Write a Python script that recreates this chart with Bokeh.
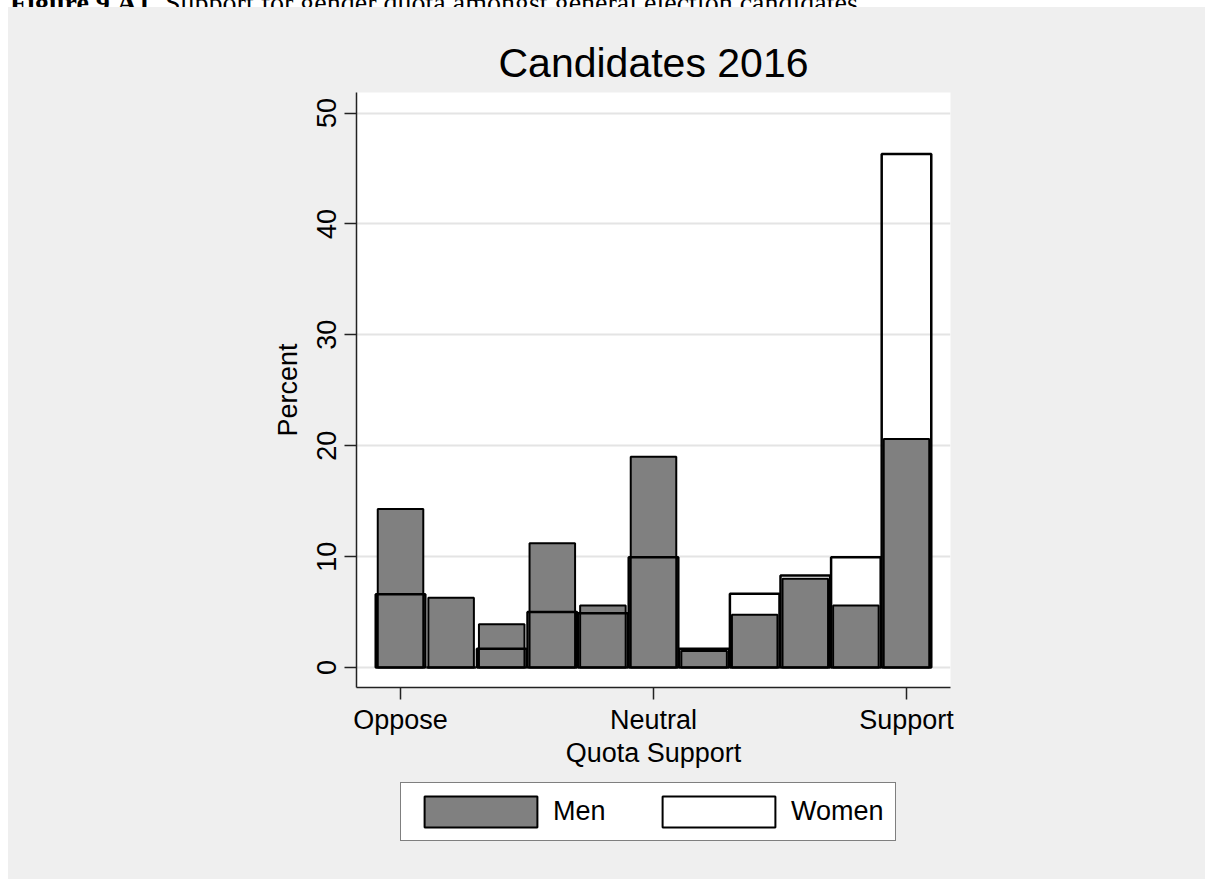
from bokeh.plotting import figure
from bokeh.models import Range1d, FixedTicker, Legend, LegendItem, Div
from bokeh.layouts import column
from bokeh.embed import file_html
from bokeh.resources import INLINE

# ---- data (percent of candidates per quota-support score, 0 = Oppose .. 10 = Support)
bins = [0, 1, 2, 3, 4, 5, 6, 7, 8, 9, 10]
men = [14.3, 6.3, 3.9, 11.2, 5.6, 19.0, 1.5, 4.75, 8.0, 5.6, 20.6]
women = [6.6, 0.0, 1.7, 5.0, 4.9, 9.95, 1.7, 6.65, 8.3, 9.95, 46.3]
x_ticks = [0, 5, 10]
x_tick_labels = ["Oppose", "Neutral", "Support"]
y_ticks = [0, 10, 20, 30, 40, 50]
series_labels = ["Men", "Women"]

FONT = "Liberation Sans"
BG = "#efefef"
MEN_FILL = "#808080"

p = figure(frame_width=594, frame_height=595,
           x_range=Range1d(-0.87, 10.87), y_range=Range1d(-1.8, 51.85),
           output_backend="svg", toolbar_location=None,
           min_border_left=348, min_border_right=255,
           min_border_top=85, min_border_bottom=90,
           background_fill_color="white", border_fill_color=BG,
           outline_line_color=None, margin=0)

r_men = p.vbar(x=bins, top=men, width=0.9, bottom=0,
               fill_color=MEN_FILL, line_color="black", line_width=2)
r_women = p.vbar(x=bins, top=women, width=0.98, bottom=0,
                 fill_color="white", fill_alpha=0, line_color="black", line_width=2.5)

# title
p.title.text = "Candidates 2016"
p.title.align = "center"
p.title.text_font = FONT
p.title.text_font_size = "41px"
p.title.text_font_style = "normal"
p.title.text_color = "black"
p.title.standoff = 13

# x axis
xa = p.xaxis[0]
xa.ticker = FixedTicker(ticks=x_ticks)
xa.major_label_overrides = {t: l for t, l in zip(x_ticks, x_tick_labels)}
xa.axis_label = "Quota Support"
# y axis
ya = p.yaxis[0]
ya.ticker = FixedTicker(ticks=y_ticks)
ya.axis_label = "Percent"
ya.major_label_orientation = "vertical"

for ax in (xa, ya):
    ax.minor_tick_line_color = None
    ax.major_tick_in = 0
    ax.major_tick_out = 12
    ax.major_tick_line_color = "#222222"
    ax.major_tick_line_width = 1.5
    ax.axis_line_color = "#222222"
    ax.axis_line_width = 1.5
    ax.major_label_text_font = FONT
    ax.major_label_text_font_size = "27px"
    ax.major_label_text_color = "black"
    ax.axis_label_text_font = FONT
    ax.axis_label_text_font_size = "27px"
    ax.axis_label_text_font_style = "normal"
    ax.axis_label_text_color = "black"

xa.major_label_standoff = 5
xa.axis_label_standoff = 0
ya.major_label_standoff = 8
ya.axis_label_standoff = 12

p.xgrid.grid_line_color = None
p.ygrid.ticker = FixedTicker(ticks=y_ticks)
p.ygrid.grid_line_color = "#e4e4e4"
p.ygrid.grid_line_width = 2

# ---- legend strip below the chart (a small figure with the same side borders)
q = figure(frame_width=594, frame_height=102,
           x_range=Range1d(0, 1), y_range=Range1d(0, 1),
           output_backend="svg", toolbar_location=None,
           min_border_left=348, min_border_right=255,
           min_border_top=0, min_border_bottom=0,
           background_fill_color=BG, border_fill_color=BG,
           outline_line_color=None, margin=0)
q.axis.visible = False
q.grid.visible = False
# legend proxies for the two series (hidden; they only supply the legend swatches)
lm = q.vbar(x=bins, top=men, width=0.9, fill_color=MEN_FILL, line_color="black", line_width=2)
lw = q.vbar(x=bins, top=women, width=0.9, fill_color="white", line_color="black", line_width=2)
lm.visible = False
lw.visible = False

legend = Legend(items=[LegendItem(label=series_labels[0], renderers=[lm]),
                       LegendItem(label=series_labels[1], renderers=[lw])],
                orientation="horizontal", location=(44, 38),
                glyph_width=141, glyph_height=39,
                label_text_font=FONT, label_text_font_size="27px",
                label_text_color="black", label_width=95,
                label_standoff=2, spacing=0, padding=9, margin=0,
                border_line_color="black", border_line_width=1.5,
                background_fill_color="white", background_fill_alpha=1,
                inactive_fill_alpha=0)
q.add_layout(legend)

caption = Div(text=('<div style="font-family:\'Liberation Serif\',serif;font-size:28px;'
                    'line-height:28px;margin-top:-22px;margin-left:10px;white-space:nowrap;color:black">'
                    '<b>Figure 9.A1.</b> Support for gender quota amongst general election candidates</div>'),
              width=1205, height=7, margin=0,
              styles={"overflow": "hidden", "background-color": "white"})

panel = column(p, q, spacing=0, margin=(0, 0, 0, 8), styles={"background-color": BG})
layout = column(caption, panel, spacing=0)
open("out.html", "w").write(file_html(layout, INLINE))
